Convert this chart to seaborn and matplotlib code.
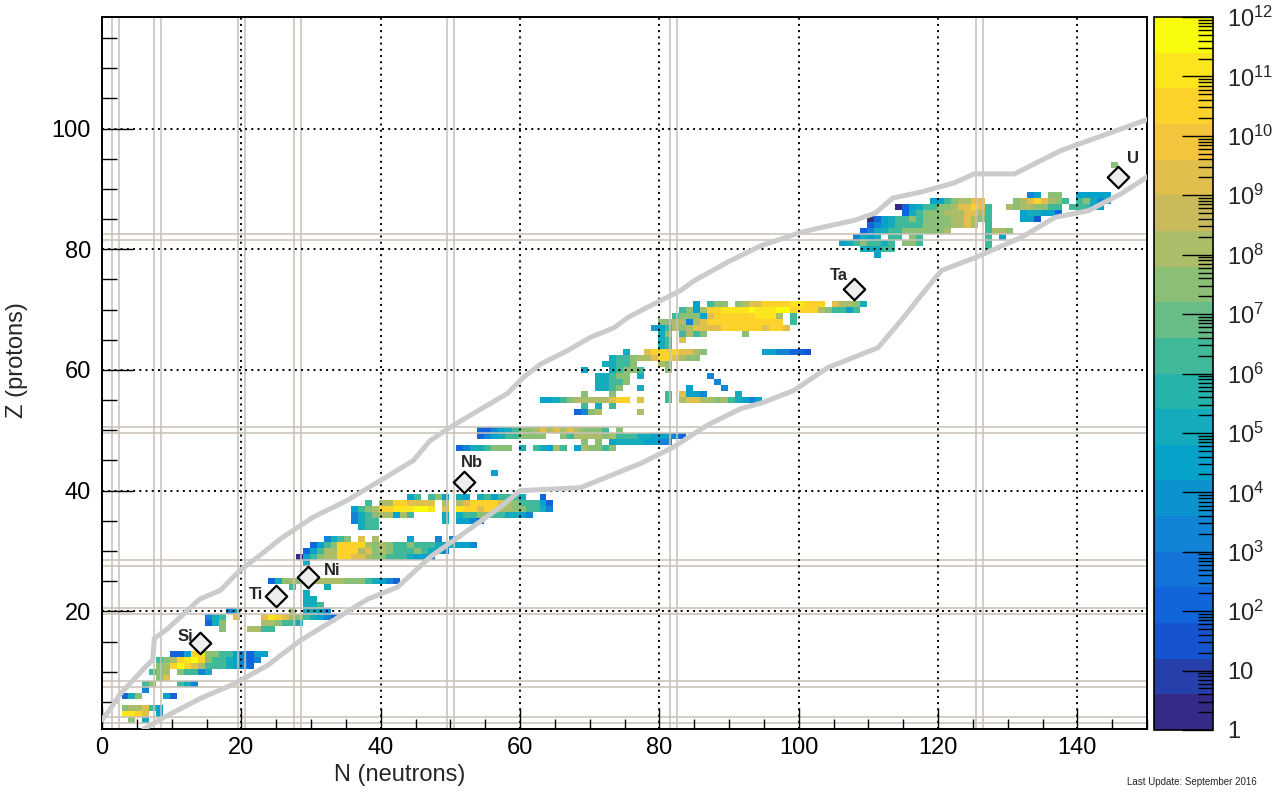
import numpy as np
import pandas as pd
import matplotlib
matplotlib.use("Agg")
import matplotlib.pyplot as plt
import matplotlib.ticker as mticker
import matplotlib.transforms as mtransforms
from matplotlib.colors import LinearSegmentedColormap, ListedColormap, LogNorm
import seaborn as sns

# cell values, one row of cells per proton number Z
# each character = log10 of the cell value, '.' = empty, a = 10, b = 11, c = 12
Z_ROWS = [2, 3, 4, 6, 7, 8, 9, 10, 11, 12, 13, 17, 18, 19, 20, 21, 22, 23, 24, 25, 28,
          29, 30, 31, 32, 34, 35, 36, 37, 38, 39, 43, 47, 48, 49, 50, 53, 54, 55, 56, 57,
          58, 59, 60, 61, 62, 63, 64, 65, 66, 67, 68, 69, 70, 71, 79, 80, 81, 82, 83, 84,
          85, 86, 87, 88, 89, 94]
N_FIRST = [4, 3, 3, 3, 6, 6, 8, 7, 8, 8, 10, 17, 15, 15, 18, 29, 29, 29, 27, 24, 29,
           28, 29, 30, 32, 37, 36, 36, 36, 38, 44, 56, 51, 69, 54, 54, 68, 69, 63, 69, 71,
           71, 71, 69, 72, 73, 75, 80, 80, 80, 79, 80, 82, 83, 85, 111, 109, 106, 108, 109, 110,
           110, 115, 114, 119, 133, 145]
CELLS = [
    "7.5", "bba9.4", "788964", "257...42", "3", "67...653", "79", "678.76635",
    "78aca986665432", "678abca76654323", "224ab776643244",
    "7...8866", "257.....887665", "356.9...9ba98765432", "35.......8.5543",
    "556", "55", "5", "6....5", "2578788888877765432", "5",
    "046788aa998776665443", "24688aaa8978766676543", "2467aaaa8787667666545443",
    "3567.9.8....4...3.3", "566", "3566.........5.4432",
    "356788486....5.56677665543", "4678aabbbccb.9.baa9aa88776653",
    "6.88aa9999.8.89aaaa98766642", "46.674.54.5646665..2", "4",
    "23556777.5.65486.487767", "7.7.455554433", "2345667777..768888786665544432",
    "2234567789898987776.7", "2378.....8", "6.5.6",
    "44567888889aa.9...6.899887865434", "7...7.......6.9443....5",
    "5567..5......4....3", "55667............3", "55677.5.........3",
    "4...56776...7", "55667...87", "5667889aa9877", "5..9aaaa9987........4433221",
    "56", "56.9", "57.6867.....7", "4468789999aaaaaa9aa9", "7788389aaaaaaaaaaa.6",
    "677749aaaaaabbb8.6", "6748aabbbbcbbbccaaaa876646", "4.677.7899aaaabbaaa.98875",
    "4", "55566.............6", "45676656.776.........6", "3545.66.76.........6.4",
    "2355667777778.....6887", "2345666677778898.6", "024566767777889876....441",
    "2567778889986....455442", "02456677899a96..87887766.66644",
    "44678899....789a9876.67534", "34.77..44444", "7",
]

# drip lines (grey bands)
UPPER_N = [0, 1, 2.6, 4, 6, 7.3, 7.5, 9.3, 11.2, 14, 17, 19.8, 22.7, 25.6, 30.3, 35.2,
           40, 44.7, 47.1, 50, 53.3, 58.2, 60.5, 63, 66.8, 70.1, 73.5, 75.5, 78.3, 80.2,
           83.1, 85, 90, 94.6, 100.3, 103.2, 108, 111, 113.5, 117.6, 122.3, 125.2, 131,
           133.9, 137.7, 144, 150]
UPPER_Z = [2, 3.5, 6.3, 8, 10.5, 12, 15.5, 17, 19, 22, 23.5, 26.8, 29.3, 32, 35.6, 38.4,
           41.7, 45, 48.3, 50.5, 52.8, 56.1, 58.8, 61, 63.2, 65.4, 67, 68.7, 70.4, 71.5,
           73.2, 74.8, 78, 80.6, 82.8, 83.6, 84.8, 86, 88.5, 89.5, 91, 92.5, 92.5,
           94.2, 96.4, 99, 101.5]
LOWER_N = [6, 9, 14, 19, 23.7, 28.5, 33.2, 38.1, 42.4, 47.1, 52.5, 57.2, 60, 68.7, 77.3,
           82, 86.8, 91.7, 94.6, 99.3, 104.2, 111.4, 114.7, 117.6, 120.5, 125.3, 132,
           136.8, 141.6, 146.3, 150]
LOWER_Z = [0.5, 2.5, 5.5, 8, 11, 15.2, 18.5, 22, 24, 29, 33.4, 37.3, 40, 40.5, 44.5,
           47.2, 50.8, 53.6, 54.5, 56.6, 60.4, 63.7, 68.2, 72.4, 76.5, 78.6, 82,
           85.3, 86.4, 89.2, 92]

MAGIC_N = [2, 8, 20, 28, 50, 82, 126]
MAGIC_Z = [2, 8, 20, 28, 50, 82]

BEAMS = ["Si", "Ti", "Ni", "Nb", "Ta", "U"]
BEAM_N = [14.0, 25.0, 29.6, 52.0, 108.0, 145.8]
BEAM_Z = [14.8, 22.6, 25.7, 41.5, 73.5, 92.0]
LABEL_DX = [-10, -14.5, 17, 5.5, -11.5, 11]
LABEL_DY = [4.5, 0.5, 4.5, 13.5, 9.5, 13]

CBAR_LABELS = ["1", "10"] + ["$10^{%d}$" % k for k in range(2, 13)]

# ROOT "bird" palette, 20 contour levels
BIRD = [(0.2082, 0.1664, 0.5293), (0.0592, 0.3599, 0.8684), (0.0780, 0.5041, 0.8385),
        (0.0232, 0.6419, 0.7914), (0.1802, 0.7178, 0.6425), (0.5301, 0.7492, 0.4662),
        (0.8186, 0.7328, 0.3499), (0.9956, 0.7862, 0.1968), (0.9764, 0.9832, 0.0539)]

sns.set_theme(style="white")
plt.rcParams["font.family"] = ["Liberation Sans", "DejaVu Sans"]
plt.rcParams["mathtext.default"] = "regular"
plt.rcParams["axes.axisbelow"] = False

smooth = LinearSegmentedColormap.from_list("bird", BIRD)
bird = ListedColormap(smooth(np.linspace(0, 1, 20)))
norm = LogNorm(vmin=1, vmax=1e12, clip=True)

grid = np.full((119, 151), np.nan)
for z, n0, row in zip(Z_ROWS, N_FIRST, CELLS):
    for k, ch in enumerate(row):
        if ch != ".":
            grid[z, n0 + k] = 10.0 ** (int(ch, 16) + 0.3)
chart = pd.DataFrame(grid, index=range(119), columns=range(151))

fig = plt.figure(figsize=(12.8, 7.92), dpi=100)
ax = fig.add_axes([102 / 1280, 1 - 729 / 792, 1045 / 1280, 712 / 792])
cax = fig.add_axes([1154 / 1280, 1 - 730 / 792, 59 / 1280, 713 / 792])

sns.heatmap(chart, ax=ax, cmap=bird, norm=norm, cbar=False,
            xticklabels=False, yticklabels=False)
mesh = ax.collections[0]
mesh.set_transform(mtransforms.Affine2D().translate(-0.2, -0.5) + ax.transData)

for m in MAGIC_N:
    for d in (-0.5, 0.5):
        ax.axvline(m + d, color="#c9c0b7", lw=1.1, zorder=2)
for m in MAGIC_Z:
    for d in (-0.5, 0.5):
        ax.axhline(m + d, color="#c9c0b7", lw=1.1, zorder=2)

sns.lineplot(x=UPPER_N, y=UPPER_Z, ax=ax, sort=False, estimator=None,
             color="#cbcbcb", linewidth=3.6, zorder=3)
sns.lineplot(x=LOWER_N, y=LOWER_Z, ax=ax, sort=False, estimator=None,
             color="#cbcbcb", linewidth=3.6, zorder=3)

sns.scatterplot(x=BEAM_N, y=BEAM_Z, ax=ax, marker="D", s=120, color="#eeeeee",
                edgecolor="black", linewidth=1.6, zorder=5)
for name, n, z, dx, dy in zip(BEAMS, BEAM_N, BEAM_Z, LABEL_DX, LABEL_DY):
    ax.annotate(name, (n, z), xytext=(dx, dy), textcoords="offset points",
                ha="center", va="center", fontsize=12, fontweight="bold", zorder=6)

ax.set_xlim(0, 150)
ax.set_ylim(0.5, 118.5)
ax.set_xlabel("")
ax.set_ylabel("")
ax.set_xticks(range(0, 151, 20))
ax.set_xticklabels([str(v) for v in range(0, 151, 20)])
ax.set_yticks(range(20, 101, 20))
ax.set_yticklabels([str(v) for v in range(20, 101, 20)])
ax.xaxis.set_minor_locator(mticker.MultipleLocator(5))
ax.yaxis.set_minor_locator(mticker.MultipleLocator(5))
ax.tick_params(which="both", direction="in", top=False, right=False, bottom=True, left=True,
               color="black", labelsize=17, labelcolor="black")
ax.tick_params(axis="x", which="major", length=15, width=1, pad=6)
ax.tick_params(axis="x", which="minor", length=7.5, width=1)
ax.tick_params(axis="y", which="major", length=22, width=1, pad=8)
ax.tick_params(axis="y", which="minor", length=11, width=1)
ax.set_axisbelow(False)
ax.grid(True, which="major", color="black", linestyle=(0, (1, 2.2)), linewidth=1.4)
for sp in ax.spines.values():
    sp.set_visible(True)
    sp.set_color("black")
    sp.set_linewidth(1.4)

sm = plt.cm.ScalarMappable(norm=norm, cmap=bird)
cb = fig.colorbar(sm, cax=cax)
cb.set_ticks(10.0 ** np.arange(13))
cb.set_ticklabels(CBAR_LABELS)
minor_vals = [k * 10.0 ** d for d in range(12) for k in range(2, 10)]
cax.yaxis.set_minor_locator(mticker.FixedLocator(minor_vals))
cax.yaxis.set_minor_formatter(mticker.NullFormatter())
cax.set_axisbelow(False)
cax.tick_params(which="both", direction="in", right=True, left=False, color="black")
cax.tick_params(which="major", length=22, width=1, labelsize=17, pad=10)
cax.tick_params(which="minor", length=11, width=1)
cb.outline.set_linewidth(1.2)
cb.outline.set_edgecolor("black")

fig.text(400 / 1280, 1 - 775 / 792, "N (neutrons)", ha="center", va="center", fontsize=17)
fig.text(17 / 1280, 1 - 360 / 792, "Z (protons)", ha="center", va="center",
         rotation=90, fontsize=17)
fig.text(1257 / 1280, 1 - 782 / 792, "Last Update: September 2016", ha="right",
         va="center", fontsize=7)

fig.savefig("out.png", dpi=100, facecolor="white")
